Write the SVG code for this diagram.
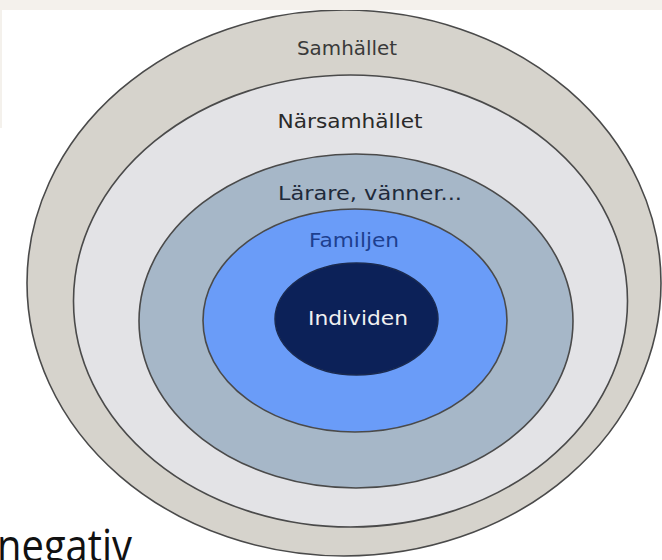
<svg xmlns="http://www.w3.org/2000/svg" width="662" height="560" viewBox="0 0 662 560">
<style>
.ring{stroke:#4a4a4a;stroke-width:1.6}
.lbl{font-family:"DejaVu Sans","Liberation Sans",sans-serif;font-size:20px;text-anchor:middle}
</style>
<rect x="0" y="0" width="662" height="560" fill="#ffffff"/>
<g id="samhallet">
<ellipse class="ring" cx="344" cy="283" rx="317" ry="273" fill="#d6d3cc"/>
<text class="lbl" x="347" y="55" fill="#3a3a3a" textLength="100" lengthAdjust="spacingAndGlyphs">Samhället</text>
</g>
<g id="narsamhallet">
<ellipse class="ring" cx="350.5" cy="301" rx="277" ry="226" fill="#e3e3e6"/>
<text class="lbl" x="350" y="128" fill="#2a2a2a" textLength="145" lengthAdjust="spacingAndGlyphs">Närsamhället</text>
</g>
<g id="larare">
<ellipse class="ring" cx="356" cy="321" rx="217" ry="167" fill="#a6b7c8"/>
<text class="lbl" x="370" y="200" fill="#1f2a3a" textLength="184" lengthAdjust="spacingAndGlyphs">Lärare, vänner...</text>
</g>
<g id="familjen">
<ellipse class="ring" cx="355" cy="320.5" rx="152" ry="111.5" fill="#6a9cf8"/>
<text class="lbl" x="354" y="247" fill="#1d3f8f" textLength="90" lengthAdjust="spacingAndGlyphs">Familjen</text>
</g>
<g id="individen">
<ellipse cx="356.5" cy="319" rx="81.5" ry="56" fill="#0c2158" stroke="#1a2a50" stroke-width="1.5"/>
<text class="lbl" x="358" y="325" fill="#f0f0f0" textLength="100" lengthAdjust="spacingAndGlyphs">Individen</text>
</g>
<g id="connectors"></g>
<rect x="0" y="0" width="662" height="10" fill="#f4f1ec"/>
<rect x="0" y="10" width="2" height="118" fill="#f4f1ec"/>
<text x="-3" y="562" font-family="'Open Sans','Noto Sans',sans-serif" font-size="45" fill="#111111" textLength="135" lengthAdjust="spacingAndGlyphs">negativ</text>
</svg>
